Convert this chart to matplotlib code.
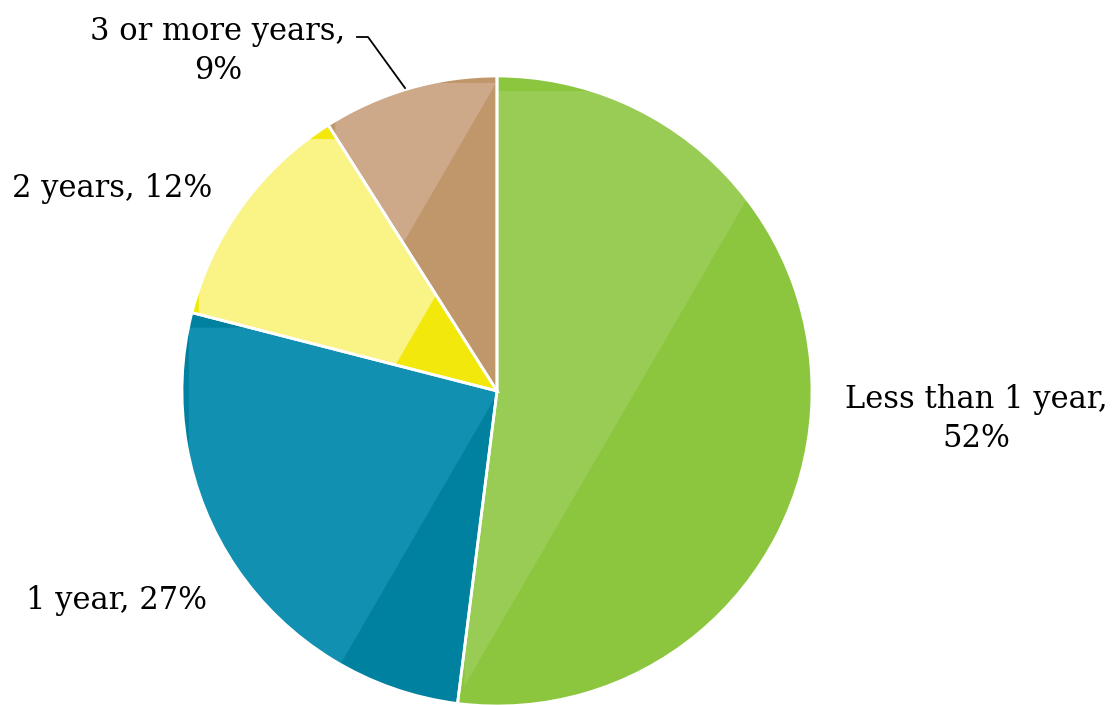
import matplotlib
matplotlib.use('Agg')
import matplotlib.pyplot as plt
from matplotlib.patches import Polygon

# data
labels = ['Less than 1 year', '1 year', '2 years', '3 or more years']
shares = [52, 27, 12, 9]

# two-tone colours per slice (base, sheen)
base_colors = ['#8CC63F', '#0081A0', '#F2E80C', '#C0966B']
sheen_colors = ['#99CC55', '#1290B1', '#FAF386', '#CDA98A']
sheen_shift = [0.44, 0.006, -0.37, -0.57]   # where the diagonal cuts the centre row (x offset / r)
sheen_top = [15, 15, 14, 7]                 # inset of the sheen from the slice top, px

W, H = 1116, 705
cx, cy, r = 497, H - 391, 315

plt.rcParams['font.family'] = ['DejaVu Serif']

fig = plt.figure(figsize=(W / 100, H / 100), dpi=100)
ax = fig.add_axes([0, 0, 1, 1])

wedges, _ = ax.pie(shares, colors=base_colors, startangle=90, counterclock=False,
                   center=(cx, cy), radius=r, frame=True,
                   wedgeprops=dict(linewidth=0))


def clip_halfplane(pts, xline):
    # keep the part of polygon pts with x <= xline(y)
    out = []
    n = len(pts)
    for i in range(n):
        p, q = pts[i], pts[(i + 1) % n]
        fp = p[0] - xline(p[1])
        fq = q[0] - xline(q[1])
        if fp <= 0:
            out.append(p)
        if fp * fq < 0:
            t = fp / (fp - fq)
            out.append((p[0] + t * (q[0] - p[0]), p[1] + t * (q[1] - p[1])))
    return out


for w, col, sh, ti in zip(wedges, sheen_colors, sheen_shift, sheen_top):
    bb = w.get_path().get_extents()
    x0, y0, x1, y1 = bb.x0 + 7, bb.y0 - 50, bb.x1 + 50, bb.y1 - ti
    rect = [(x0, y1), (x1, y1), (x1, y0), (x0, y0)]
    xline = (lambda s: (lambda y: cx + s * r + 0.58 * (y - cy)))(sh)
    poly = clip_halfplane(rect, xline)
    if len(poly) >= 3:
        p = Polygon(poly, closed=True, facecolor=col, edgecolor='none', zorder=2)
        p.set_clip_path(w)
        ax.add_patch(p)

# white separators on top
ax.pie(shares, startangle=90, counterclock=False, center=(cx, cy), radius=r,
       frame=True, wedgeprops=dict(fill=False, edgecolor='white', linewidth=2, zorder=3))

fs = 22
ax.text(976, H - 419, f'{labels[0]},\n{shares[0]}%', ha='center', va='center',
        fontsize=fs, linespacing=1.35, multialignment='center')
ax.text(117, H - 600, f'{labels[1]}, {shares[1]}%', ha='center', va='center', fontsize=fs)
ax.text(112, H - 188, f'{labels[2]}, {shares[2]}%', ha='center', va='center', fontsize=fs)
ax.text(218, H - 51, f'{labels[3]},\n{shares[3]}%', ha='center', va='center',
        fontsize=fs, linespacing=1.35, multialignment='center')

# leader line for the small slice
ax.plot([357, 368, 405], [H - 37, H - 37, H - 88], color='black', lw=1.3, zorder=4)

ax.set_xlim(0, W)
ax.set_ylim(0, H)
ax.set_aspect('equal')
ax.axis('off')

fig.savefig('out.png', dpi=100)
